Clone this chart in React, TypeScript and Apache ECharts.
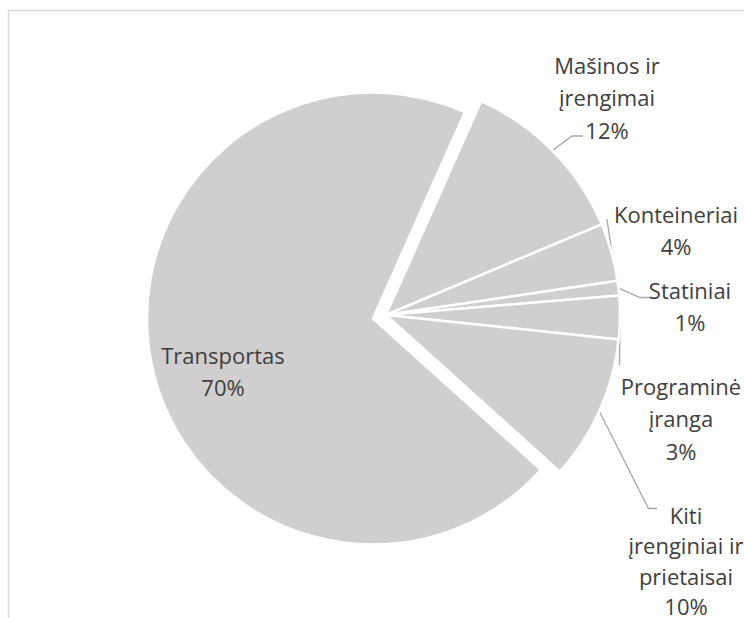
import React, { useEffect, useRef } from "react";
import * as echarts from "echarts";

// Data
const categories = [
  "Mašinos ir įrengimai",
  "Konteineriai",
  "Statiniai",
  "Programinė įranga",
  "Kiti įrenginiai ir prietaisai",
  "Transportas",
];
const labelText = [
  "Mašinos ir\nįrengimai",
  "Konteineriai",
  "Statiniai",
  "Programinė\nįranga",
  "Kiti\nįrenginiai ir\nprietaisai",
  "Transportas",
];
const shares = [12, 4, 1, 3, 10, 70];
const explodedIndex = 5;

// Layout
const CENTER_MAIN: [number, number] = [386, 315];
const R_MAIN = 234;
const CENTER_EXPL: [number, number] = [373, 318.5];
const R_EXPL = 226;
// label block centres
const labelPos: [number, number][] = [
  [607, 97],
  [676, 230],
  [690, 306],
  [681, 418],
  [686, 560.5],
  [223, 371],
];
const labelLineHeight = [32.5, 32, 32, 32.5, 30.5, 32];
// leader lines: anchor angle on the rim (deg clockwise from 12 o'clock), elbow, end
const leaders: ({ ang: number; pts: [number, number][] } | null)[] = [
  { ang: 45.3, pts: [[572, 136], [583, 136]] },
  { ang: 75, pts: [[607, 219], [607, 219]] },
  { ang: 83.4, pts: [[640, 297.5], [650, 297.5]] },
  { ang: 90.4, pts: [[619.5, 365], [619.5, 365]] },
  { ang: 114.3, pts: [[648.5, 508.5], [657, 508.5]] },
  null,
];

const SLICE = "#d0cece";
const TEXT = "#404040";
const FONT = "'Open Sans', 'Noto Sans', sans-serif";

function rim(ang: number): [number, number] {
  const a = (ang * Math.PI) / 180;
  return [CENTER_MAIN[0] + R_MAIN * Math.sin(a), CENTER_MAIN[1] - R_MAIN * Math.cos(a)];
}

export default function App() {
  const ref = useRef<HTMLDivElement>(null);
  useEffect(() => {
    if (!ref.current) return;
    const chart = echarts.init(ref.current, undefined, { renderer: "svg" });
    const mk = (visibleFn: (i: number) => boolean) =>
      categories.map((c, i) => ({
        name: c,
        value: shares[i],
        itemStyle: visibleFn(i)
          ? { color: SLICE, borderColor: "#ffffff", borderWidth: 2.5 }
          : { color: "rgba(0,0,0,0)", borderWidth: 0 },
        label: { show: visibleFn(i), lineHeight: labelLineHeight[i] },
        labelLine: { show: visibleFn(i) && i !== explodedIndex },
      }));
    const common = {
      type: "pie",
      startAngle: 66,
      clockwise: true,
      silent: true,
      avoidLabelOverlap: false,
      label: {
        position: "outside",
        formatter: (p: any) => `${labelText[p.dataIndex]}\n${p.value}%`,
        color: TEXT,
        fontFamily: FONT,
        fontSize: 22,
        lineHeight: 32,
        align: "center",
      },
      labelLine: {
        length: 10,
        length2: 8,
        lineStyle: { color: "#a6a6a6", width: 1.3 },
      },
      labelLayout: (p: any) => {
        const i = p.dataIndex;
        const out: any = {
          x: labelPos[i][0],
          y: labelPos[i][1],
          align: "center",
          verticalAlign: "middle",
        };
        const l = leaders[i];
        if (l) out.labelLinePoints = [rim(l.ang), l.pts[0], l.pts[1]];
        return out;
      },
    };
    chart.setOption({
      animation: false,
      backgroundColor: "#ffffff",
      graphic: [
        {
          type: "rect",
          shape: { x: 8.5, y: 10.5, width: 900, height: 900 },
          style: { fill: "none", stroke: "#d9d9d9", lineWidth: 1.5 },
          silent: true,
        },
      ],
      series: [
        {
          ...common,
          center: CENTER_EXPL,
          radius: R_EXPL,
          data: mk((i) => i === explodedIndex),
        },
        {
          ...common,
          center: CENTER_MAIN,
          radius: R_MAIN,
          data: mk((i) => i !== explodedIndex),
        },
      ],
    });
    return () => chart.dispose();
  }, []);
  return (
    <div
      ref={ref}
      style={{ position: "fixed", left: 0, top: 0, width: 744, height: 618 }}
    />
  );
}
